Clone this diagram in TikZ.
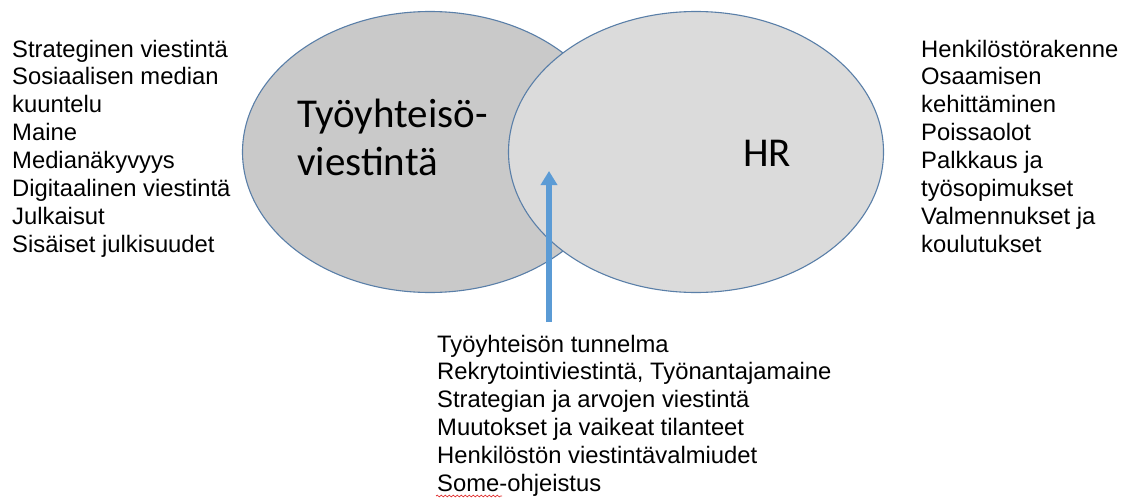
\documentclass[tikz,border=0pt]{standalone}
\usepackage{fontspec}
\setmainfont{Liberation Sans}
\newfontfamily\calib{Carlito}
\usetikzlibrary{arrows.meta,shapes.geometric,decorations.pathmorphing}
\definecolor{edgeblue}{HTML}{5A7FA8}
\definecolor{leftgray}{HTML}{C9C9C9}
\definecolor{rightgray}{HTML}{DBDBDB}
\definecolor{arrowblue}{HTML}{5B9BD5}
\definecolor{spellred}{HTML}{E03030}
\tikzset{
  circ/.style={ellipse, draw=edgeblue, line width=1.1pt, inner sep=0pt,
    minimum width=375pt, minimum height=281pt},
  listtext/.style={anchor=base west, inner sep=0pt,
    font=\fontsize{23.8}{27.9}\selectfont},
  bigtext/.style={anchor=base west, inner sep=0pt,
    font=\calib\fontsize{41}{48}\selectfont},
  pointer/.style={draw=arrowblue, line width=6.5pt,
    -{Triangle[width=16pt,length=14pt]}},
  squiggle/.style={draw=spellred, line width=0.7pt,
    decorate, decoration={snake, amplitude=0.9pt, segment length=4pt}}
}
\begin{document}
\begin{tikzpicture}[x=1pt,y=-1pt]
\useasboundingbox (0,0) rectangle (1132,498);
\node[circ, fill=leftgray] (left) at (430,152) {};
\node[circ, fill=rightgray] (right) at (696,152) {};
\node[bigtext] (ltitle) at (297,127) {\begin{tabular}[t]{@{}l@{}}Työyhteisö-\\viestintä\end{tabular}};
\node[bigtext] (rtitle) at (743,166) {HR};
\node[listtext] (llist) at (12,57) {\begin{tabular}[t]{@{}l@{}}Strateginen viestintä\\Sosiaalisen median\\kuuntelu\\Maine\\Medianäkyvyys\\Digitaalinen viestintä\\Julkaisut\\Sisäiset julkisuudet\end{tabular}};
\node[listtext] (rlist) at (921,57) {\begin{tabular}[t]{@{}l@{}}Henkilöstörakenne\\Osaamisen\\kehittäminen\\Poissaolot\\Palkkaus ja\\työsopimukset\\Valmennukset ja\\koulutukset\end{tabular}};
\node[listtext] (blist) at (437,352) {\begin{tabular}[t]{@{}l@{}}Työyhteisön tunnelma\\Rekrytointiviestintä, Työnantajamaine\\Strategian ja arvojen viestintä\\Muutokset ja vaikeat tilanteet\\Henkilöstön viestintävalmiudet\\Some-ohjeistus\end{tabular}};
\coordinate (arrowfoot) at (549,322);
\coordinate (arrowtip) at (549,171);
\draw[pointer] (arrowfoot) -- (arrowtip);
\coordinate (sqa) at (436,496);
\coordinate (sqb) at (502,496);
\draw[squiggle] (sqa) -- (sqb);
\end{tikzpicture}
\end{document}
